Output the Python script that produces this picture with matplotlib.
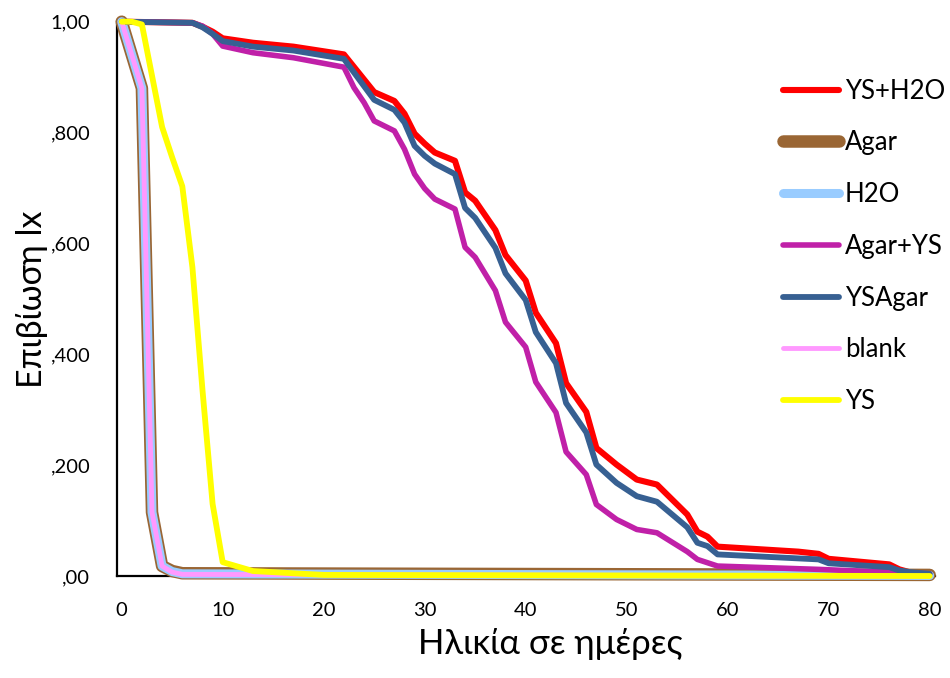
import matplotlib
matplotlib.use("Agg")
import matplotlib.pyplot as plt

# ---- data ----
days_ys_h2o = [0, 7, 8, 9, 10, 13, 17, 22, 25, 27, 28, 29, 30, 31, 33, 34, 35, 37, 38, 40, 41, 43, 44, 46, 47, 49, 51, 53, 56, 57, 58, 59, 67, 69, 70, 76, 77, 78, 80]
lx_ys_h2o = [1.0, 0.998, 0.991, 0.982, 0.970, 0.962, 0.955, 0.941, 0.873, 0.857, 0.834, 0.798, 0.780, 0.764, 0.749, 0.692, 0.677, 0.624, 0.579, 0.533, 0.475, 0.420, 0.348, 0.296, 0.231, 0.201, 0.174, 0.165, 0.111, 0.080, 0.071, 0.053, 0.044, 0.040, 0.031, 0.021, 0.012, 0.007, 0.005]

days_agar = [0, 2, 3, 4, 5, 6, 80]
lx_agar = [1.0, 0.88, 0.115, 0.018, 0.009, 0.005, 0.002]

days_h2o = [0, 2, 3, 4, 5, 6, 80]
lx_h2o = [1.0, 0.88, 0.115, 0.018, 0.008, 0.004, 0.001]

days_agar_ys = [0, 7, 8, 9, 10, 13, 17, 22, 23, 24, 25, 27, 28, 29, 30, 31, 33, 34, 35, 37, 38, 40, 41, 43, 44, 46, 47, 49, 51, 53, 56, 57, 59, 69, 77, 80]
lx_agar_ys = [1.0, 0.998, 0.992, 0.978, 0.956, 0.944, 0.935, 0.918, 0.881, 0.854, 0.821, 0.803, 0.770, 0.725, 0.699, 0.680, 0.662, 0.593, 0.575, 0.515, 0.458, 0.413, 0.350, 0.295, 0.224, 0.183, 0.129, 0.102, 0.084, 0.078, 0.044, 0.030, 0.018, 0.012, 0.006, 0.004]

days_ysagar = [0, 7, 8, 9, 10, 13, 17, 22, 25, 27, 28, 29, 30, 31, 33, 34, 35, 37, 38, 40, 41, 43, 44, 46, 47, 49, 51, 53, 56, 57, 58, 59, 69, 70, 76, 77, 78, 80]
lx_ysagar = [1.0, 0.998, 0.990, 0.978, 0.965, 0.955, 0.948, 0.933, 0.859, 0.841, 0.818, 0.776, 0.758, 0.744, 0.725, 0.664, 0.646, 0.592, 0.546, 0.498, 0.440, 0.384, 0.312, 0.259, 0.201, 0.168, 0.144, 0.134, 0.088, 0.060, 0.054, 0.039, 0.030, 0.023, 0.016, 0.010, 0.007, 0.004]

days_blank = [0, 2, 3, 4, 5, 6, 80]
lx_blank = [1.0, 0.88, 0.115, 0.018, 0.007, 0.003, 0.0]

days_ys = [0, 1, 2, 4, 5, 6, 7, 8, 9, 10, 13, 20, 80]
lx_ys = [1.0, 1.0, 0.995, 0.810, 0.755, 0.703, 0.557, 0.335, 0.130, 0.025, 0.009, 0.002, 0.0]

y_ticks = [0.0, 0.2, 0.4, 0.6, 0.8, 1.0]
y_tick_labels = [",00", ",200", ",400", ",600", ",800", "1,00"]
x_ticks = [0, 10, 20, 30, 40, 50, 60, 70, 80]

series = [
    ("YS+H2O", days_ys_h2o, lx_ys_h2o, "#FF0000", 4.4),
    ("Agar", days_agar, lx_agar, "#9A6634", 9.0),
    ("H2O", days_h2o, lx_h2o, "#99CCFF", 6.5),
    ("Agar+YS", days_agar_ys, lx_agar_ys, "#C020A8", 4.0),
    ("YSAgar", days_ysagar, lx_ysagar, "#376092", 4.2),
    ("blank", days_blank, lx_blank, "#FF99FF", 3.5),
    ("YS", days_ys, lx_ys, "#FFFF00", 4.2),
]

plt.rcParams['font.family'] = ['Lato', 'Open Sans', 'DejaVu Sans']

fig = plt.figure(figsize=(9.5, 6.78), dpi=100)
ax = fig.add_axes([0.1228, 0.1504, 0.8611, 0.8176])

for name, xs, ys, col, lw in series:
    ax.plot(xs, ys, color=col, lw=lw, label=name, clip_on=False,
            solid_joinstyle='round', solid_capstyle='round')

ax.set_xlim(-0.5, 80.5)
ax.set_ylim(0, 1.0)
ax.set_xticks(x_ticks)
ax.set_yticks(y_ticks)
ax.set_yticklabels(y_tick_labels)
ax.tick_params(axis='both', length=0, labelsize=14.5, colors='black')
ax.tick_params(axis='x', pad=19)
ax.tick_params(axis='y', pad=19)

for s in ['top', 'right']:
    ax.spines[s].set_visible(False)
for s in ['left', 'bottom']:
    ax.spines[s].set_linewidth(1.6)
    ax.spines[s].set_color('black')
    ax.spines[s].set_zorder(0.5)

ax.set_xlabel("Ηλικία σε ημέρες", fontsize=25)
ax.xaxis.set_label_coords(0.5297, -0.122, transform=ax.transAxes)
ax.xaxis.label.set_va('center')
ax.set_ylabel("Επιβίωση lx", fontsize=24.5, labelpad=2)

leg = fig.legend(loc='upper left', bbox_to_anchor=(0.813, 0.899), frameon=False,
                 fontsize=18.5, handlelength=2.2, handletextpad=0.23,
                 labelspacing=1.04, borderaxespad=0)

fig.savefig("out.png", dpi=100)
